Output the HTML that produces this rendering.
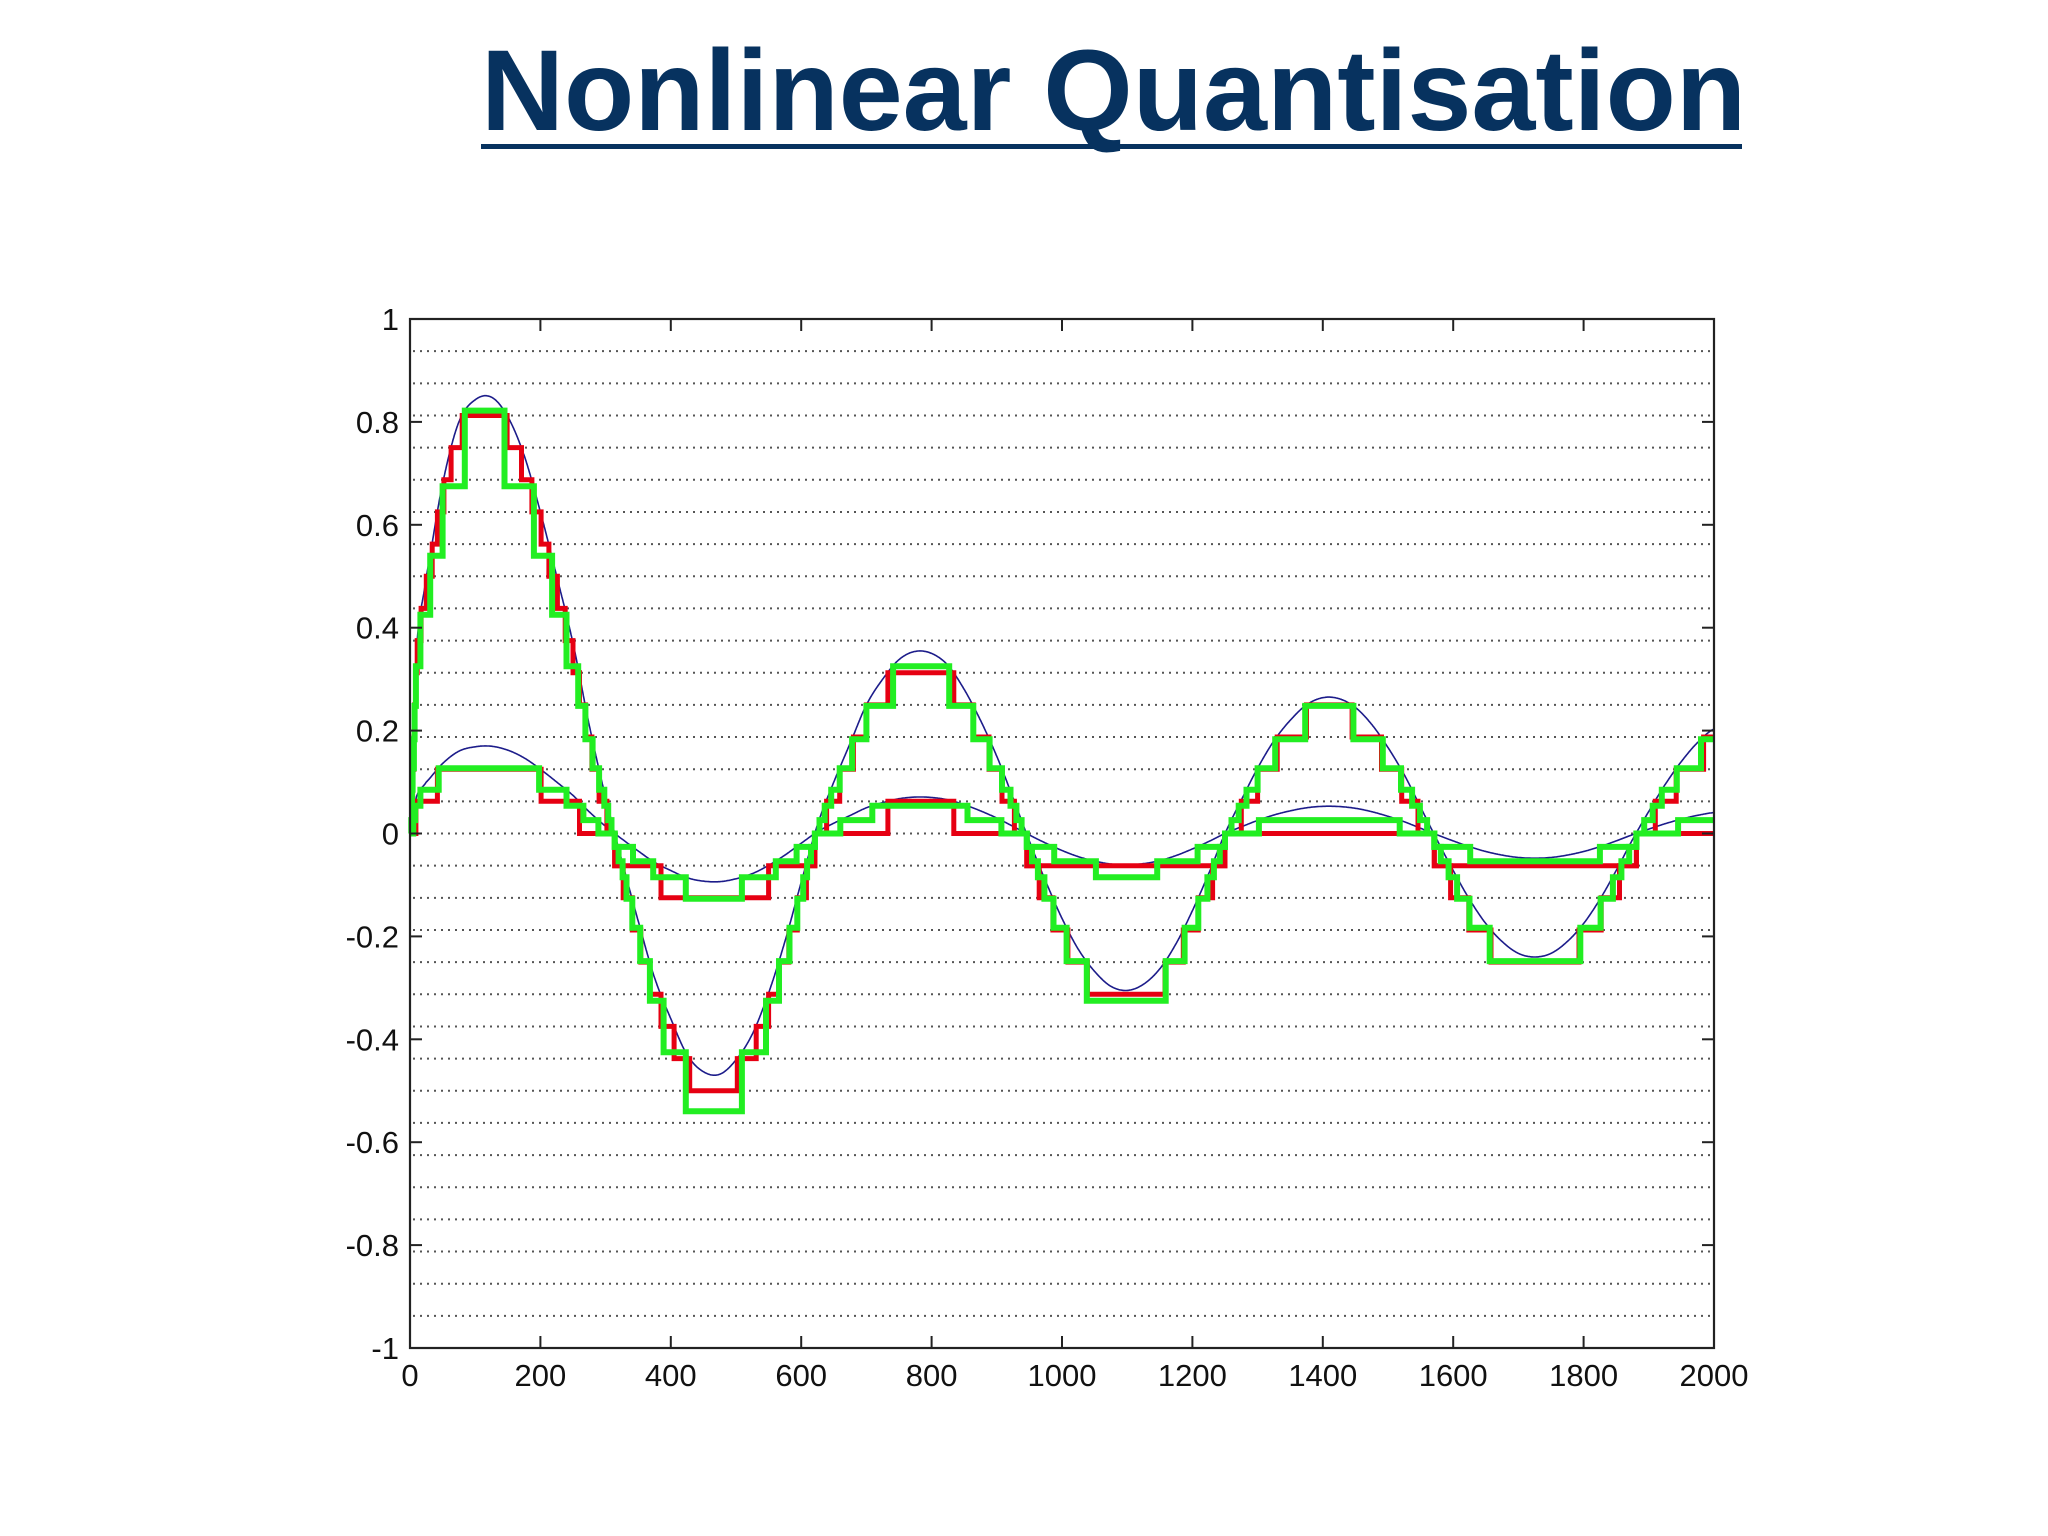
<!DOCTYPE html>
<html><head><meta charset="utf-8"><style>
html,body{margin:0;padding:0;background:#fff;}
#wrap{position:relative;width:2048px;height:1536px;overflow:hidden;background:#fff;}
#title{position:absolute;left:481px;top:28px;white-space:nowrap;font-family:"Liberation Sans",sans-serif;font-weight:bold;font-size:115px;color:#07325f;line-height:1.1;margin:0;}
#uline{position:absolute;left:481px;width:1261px;top:144px;height:5px;background:#07325f;}
</style></head><body>
<div id="wrap">
<h1 id="title">Nonlinear Quantisation</h1>
<div id="uline"></div>
<svg id="chart" width="2048" height="1536" style="position:absolute;left:0;top:0"></svg>
</div>
<script>
const times = [0,10,25,50,75,100,125,150,175,200,225,250,275,300,325,350,375,400,425,450,475,500,525,550,575,600,625,650,675,700,725,750,775,800,825,850,875,900,925,950,975,1000,1025,1050,1075,1100,1125,1150,1175,1200,1225,1250,1275,1300,1325,1350,1375,1400,1425,1450,1475,1500,1525,1550,1575,1600,1625,1650,1675,1700,1725,1750,1775,1800,1825,1850,1875,1900,1925,1950,1975,2000];
const signalLarge = [0,0.36,0.5,0.68,0.8,0.843,0.848,0.81,0.735,0.625,0.5,0.37,0.21,0.07,-0.053,-0.17,-0.28,-0.36,-0.43,-0.463,-0.468,-0.44,-0.39,-0.31,-0.21,-0.095,0.017,0.10,0.175,0.25,0.30,0.338,0.354,0.35,0.327,0.28,0.22,0.15,0.069,-0.015,-0.093,-0.165,-0.225,-0.268,-0.297,-0.305,-0.293,-0.263,-0.214,-0.15,-0.078,0,0.065,0.127,0.18,0.22,0.25,0.264,0.262,0.245,0.212,0.167,0.114,0.051,-0.012,-0.072,-0.128,-0.175,-0.21,-0.233,-0.24,-0.233,-0.21,-0.175,-0.128,-0.072,-0.012,0.043,0.095,0.14,0.177,0.203];
const smallGain = 0.2;
const uniformStep = 0.0625;
const greenLevelsPos = [0,0.026,0.054,0.085,0.127,0.183,0.248,0.325,0.425,0.540,0.675,0.822,1.0];
const xTicks = [0,200,400,600,800,1000,1200,1400,1600,1800,2000];
const yTicks = [1,0.8,0.6,0.4,0.2,0,-0.2,-0.4,-0.6,-0.8,-1];
const yTickLabels = ["1","0.8","0.6","0.4","0.2","0","-0.2","-0.4","-0.6","-0.8","-1"];

const L=410,R=1714,T=319,B=1348;
const X=v=>L+(v-0)/(2000)*(R-L);
const Y=v=>T+(1-v)/2*(B-T);
const NS="http://www.w3.org/2000/svg";
const svg=document.getElementById('chart');
function mk(tag,attrs,parent){const e=document.createElementNS(NS,tag);for(const k in attrs)e.setAttribute(k,attrs[k]);(parent||svg).appendChild(e);return e;}

function interp(t){
  let i=0;while(i<times.length-2&&times[i+1]<t)i++;
  const t0=times[i],t1=times[i+1];const u=(t-t0)/(t1-t0);
  const p0=signalLarge[Math.max(0,i-1)],p1=signalLarge[i],p2=signalLarge[i+1],p3=signalLarge[Math.min(signalLarge.length-1,i+2)];
  return 0.5*((2*p1)+(-p0+p2)*u+(2*p0-5*p1+4*p2-p3)*u*u+(-p0+3*p1-3*p2+p3)*u*u*u);
}
const greenLevels=[...greenLevelsPos.slice(1).map(v=>-v).reverse(),...greenLevelsPos];
function qUniform(v){return Math.floor(v/uniformStep+1e-9)*uniformStep;}
function qGreen(v){let r=greenLevels[0];for(const l of greenLevels){if(l<=v+1e-9)r=l;}return r;}

const grid=mk('g',{});


for(let k=-15;k<=15;k++){
  const y=Y(k/16);
  const ln=mk('line',{x1:L+3,x2:R-2,y1:y,y2:y,stroke:'#555',"stroke-width":2,"stroke-dasharray":"2 5"},grid);
  
  
}

function series(fn,gain,color,width,name,step){
  let d='';let prev=null;
  for(let t=0;t<=2000;t+=1){
    const v=fn(interp(t)*gain);
    if(prev===null){d+=`M${X(t).toFixed(1)},${Y(v).toFixed(1)}`;}
    else if(step){ if(v!==prev){d+=`L${X(t).toFixed(1)},${Y(prev).toFixed(1)}L${X(t).toFixed(1)},${Y(v).toFixed(1)}`;} }
    else d+=`L${X(t).toFixed(1)},${Y(v).toFixed(1)}`;
    prev=v;
  }
  if(step)d+=`L${X(2000).toFixed(1)},${Y(prev).toFixed(1)}`;
  const p=mk('path',{d:d,fill:'none',stroke:color,"stroke-width":width,"stroke-linejoin":"miter"});
  
  
}
series(v=>v,1,'#1c1c8a',1.6,'original-signal-large',false);
series(v=>v,smallGain,'#1c1c8a',1.6,'original-signal-small',false);
series(qUniform,1,'#e60012',5,'uniform-quantised-large',true);
series(qUniform,smallGain,'#e60012',5,'uniform-quantised-small',true);
series(qGreen,1,'#22ee22',6,'nonlinear-quantised-large',true);
series(qGreen,smallGain,'#22ee22',6,'nonlinear-quantised-small',true);

const box=mk('rect',{x:L,y:T,width:R-L,height:B-T,fill:'none',stroke:'#222',"stroke-width":2.2});


xTicks.forEach(v=>{
  const x=X(v);
  const t1=mk('line',{x1:x,x2:x,y1:B,y2:B-12,stroke:'#222',"stroke-width":2});
  
  
  const t2=mk('line',{x1:x,x2:x,y1:T,y2:T+12,stroke:'#222',"stroke-width":2});
  
  
  const tx=mk('text',{x:x,y:B+38,"text-anchor":"middle","font-family":"Liberation Sans, sans-serif","font-size":31,fill:'#111'});
  tx.textContent=String(v);
  
  
});
yTicks.forEach((v,i)=>{
  const y=Y(v);
  const t1=mk('line',{x1:L,x2:L+12,y1:y,y2:y,stroke:'#222',"stroke-width":2});
  
  
  const t2=mk('line',{x1:R,x2:R-12,y1:y,y2:y,stroke:'#222',"stroke-width":2});
  
  
  const tx=mk('text',{x:L-11,y:y+11,"text-anchor":"end","font-family":"Liberation Sans, sans-serif","font-size":31,fill:'#111'});
  tx.textContent=yTickLabels[i];
  
  
});
</script>
</body></html>
